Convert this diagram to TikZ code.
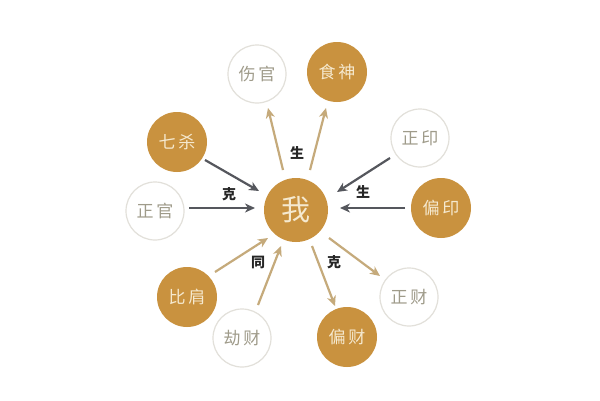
\documentclass[tikz,border=0pt]{standalone}
\usepackage{fontspec}
\newfontfamily\cjk{Noto Sans CJK SC}
\usetikzlibrary{arrows.meta}
\definecolor{gold}{HTML}{C9923F}
\definecolor{goldtext}{HTML}{F5E9CF}
\definecolor{ringgray}{HTML}{E2E0DA}
\definecolor{softtext}{HTML}{9F9B8A}
\definecolor{darkarrow}{HTML}{55575D}
\definecolor{tanarrow}{HTML}{C5AA7B}
\tikzset{
  goldnode/.style={circle, fill=gold, minimum size=60pt, inner sep=0pt, text=goldtext, font=\cjk\fontsize{17}{17}\selectfont},
  whitenode/.style={circle, draw=ringgray, line width=1.2pt, fill=white, minimum size=58pt, inner sep=0pt, text=softtext, font=\cjk\fontsize{17}{17}\selectfont},
  centernode/.style={circle, fill=gold, minimum size=64pt, inner sep=0pt, text=goldtext, font=\cjk\fontsize{29}{29}\selectfont},
  darkline/.style={draw=darkarrow, line width=2.2pt, -{Stealth[length=10pt,width=9pt,inset=3pt]}},
  tanline/.style={draw=tanarrow, line width=2.2pt, -{Stealth[length=10pt,width=9pt,inset=3pt]}},
  rel/.style={font=\cjk\bfseries\fontsize{14}{14}\selectfont, text=black!85}
}
\begin{document}
\begin{tikzpicture}[x=1pt,y=-1pt]
\useasboundingbox[fill=white] (0,0) rectangle (600,400);
\node[centernode] (wo) at (296,210) {我};
\node[whitenode] (shangguan) at (257,74) {伤\,官};
\node[goldnode] (shishen) at (337,72) {食\,神};
\node[goldnode] (qisha) at (177,142) {七\,杀};
\node[whitenode] (zhengyin) at (420,138) {正\,印};
\node[whitenode] (zhengguan) at (155,211) {正\,官};
\node[goldnode] (pianyin) at (441,208) {偏\,印};
\node[goldnode] (bijian) at (187,297) {比\,肩};
\node[whitenode] (jiecai) at (242,338) {劫\,财};
\node[goldnode] (piancai) at (347,337) {偏\,财};
\node[whitenode] (zhengcai) at (409,297) {正\,财};
% incoming dark arrows
\coordinate (qa) at (205,160); \coordinate (qb) at (259,191);
\draw[darkline] (qa) -- (qb);
\coordinate (ga) at (189,208); \coordinate (gb) at (255,208);
\draw[darkline] (ga) -- (gb);
\coordinate (ya) at (390,158); \coordinate (yb) at (337,192);
\draw[darkline] (ya) -- (yb);
\coordinate (pa) at (405,208); \coordinate (pb) at (340,208);
\draw[darkline] (pa) -- (pb);
% outgoing tan arrows
\coordinate (sa) at (283,170); \coordinate (sb) at (268,108);
\draw[tanline] (sa) -- (sb);
\coordinate (ta) at (310,170); \coordinate (tb) at (326,108);
\draw[tanline] (ta) -- (tb);
\coordinate (ca) at (312,246); \coordinate (cb) at (335,306);
\draw[tanline] (ca) -- (cb);
\coordinate (da) at (329,238); \coordinate (db) at (380,276);
\draw[tanline] (da) -- (db);
% incoming tan arrows
\coordinate (ba) at (215,272); \coordinate (bb) at (268,238);
\draw[tanline] (ba) -- (bb);
\coordinate (ja) at (258,305); \coordinate (jb) at (281,246);
\draw[tanline] (ja) -- (jb);
% labels
\node[rel] (l1) at (297,153) {生};
\node[rel] (l2) at (229,194) {克};
\node[rel] (l3) at (363,192) {生};
\node[rel] (l4) at (258,262) {同};
\node[rel] (l5) at (334,262) {克};
\end{tikzpicture}
\end{document}
